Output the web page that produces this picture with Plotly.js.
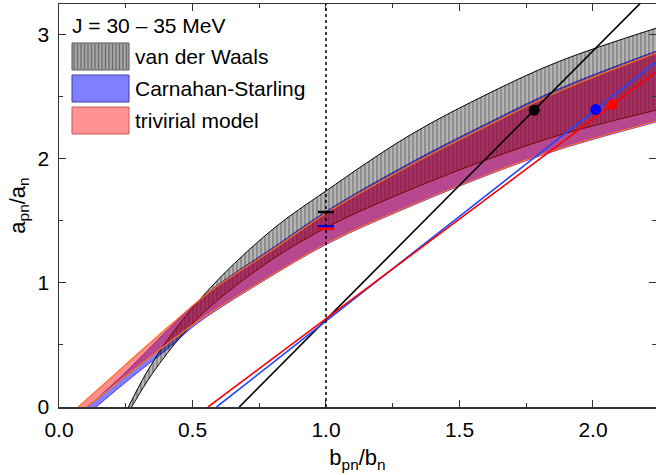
<!DOCTYPE html>
<html>
<head>
<meta charset="utf-8">
<script src="https://cdn.plot.ly/plotly-3.0.1.min.js"></script>
<style>html,body{margin:0;padding:0;background:#fff;}#chart{width:656px;height:475px;}</style>
</head>
<body>
<div id="chart"></div>
<script>
// ---------------- data ----------------
// van der Waals band
const vdwUpX = [0.26, 0.326, 0.42, 0.58, 0.80, 1.00, 1.315, 1.614, 1.876, 2.236];
const vdwUpY = [0.00, 0.27, 0.58, 0.99, 1.43, 1.74, 2.19, 2.53, 2.785, 3.05];
const vdwLoX = [0.272, 0.35, 0.466, 0.578, 0.80, 1.015, 1.315, 1.614, 1.876, 2.236];
const vdwLoY = [0.00, 0.27, 0.59, 0.83, 1.19, 1.46, 1.75, 2.00, 2.19, 2.39];
// Carnahan-Starling band
const csUpX = [0.108, 0.25, 0.428, 0.578, 0.803, 1.015, 1.315, 1.614, 1.876, 2.236];
const csUpY = [0.00, 0.28, 0.665, 0.955, 1.285, 1.595, 1.965, 2.295, 2.565, 2.865];
const csLoX = [0.139, 0.25, 0.416, 0.516, 0.75, 1.015, 1.315, 1.614, 1.876, 2.236];
const csLoY = [0.00, 0.20, 0.485, 0.67, 0.995, 1.325, 1.615, 1.875, 2.075, 2.295];
// trivirial model band
const triUpX = [0.072, 0.241, 0.428, 0.578, 0.803, 1.015, 1.315, 1.614, 1.876, 2.236];
const triUpY = [0.00, 0.325, 0.68, 0.95, 1.27, 1.58, 1.945, 2.275, 2.545, 2.85];
const triLoX = [0.104, 0.40, 0.516, 0.75, 1.015, 1.315, 1.614, 1.876, 2.236];
const triLoY = [0.00, 0.50, 0.685, 1.00, 1.33, 1.62, 1.88, 2.08, 2.30];
// straight lines
const lineBlackX = [0.675, 2.20], lineBlackY = [0.00, 3.30];
const lineBlueX  = [0.59, 2.30],  lineBlueY  = [0.00, 2.885];
const lineRedX   = [0.558, 2.30], lineRedY   = [0.00, 2.80];
// points on the lines
const dotBlack = {x: [1.78], y: [2.39]};
const dotBlue  = {x: [2.01], y: [2.395]};
const dotRed   = {x: [2.072], y: [2.435]};
// short marks at b_pn/b_n = 1
const markX = [0.97, 1.03];
const markBlackY = 1.57, markBlueY = 1.455, markRedY = 1.435;
const refX = 1.0;
// labels
const legendTitle = 'J = 30 \u2013 35 MeV';
const seriesNames = ['van der Waals', 'Carnahan-Starling', 'trivirial model'];
const xTitle = 'b<sub>pn</sub>/b<sub>n</sub>';
const yTitle = 'a<sub>pn</sub>/a<sub>n</sub>';

// ---------------- layout helpers ----------------
const W = 656, H = 475, M = {l: 59, r: 0, t: 4, b: 68};
const pw = W - M.l - M.r, ph = H - M.t - M.b;
const px2x = px => (px - M.l) / pw;
const px2y = py => (H - M.b - py) / ph;
const FONT = 'Liberation Sans, Arial, sans-serif';

const blueEdge = 'rgb(80,50,255)';
const redEdge = 'rgb(255,110,30)';

// drawing order: blue band, then van der Waals hatch, then red band on top
const traces = [
  {x: csLoX, y: csLoY, mode: 'lines', line: {color: blueEdge, width: 1, shape: 'spline'}, showlegend: false, hoverinfo: 'skip'},
  {x: csUpX, y: csUpY, mode: 'lines', line: {color: blueEdge, width: 1, shape: 'spline'}, fill: 'tonexty', fillcolor: 'rgba(0,0,255,0.5)', showlegend: false, hoverinfo: 'skip'},
  {x: vdwLoX, y: vdwLoY, mode: 'lines', line: {color: 'rgb(20,10,10)', width: 1, shape: 'spline'}, showlegend: false, hoverinfo: 'skip'},
  {x: vdwUpX, y: vdwUpY, mode: 'lines', line: {color: 'black', width: 1, shape: 'spline'}, fill: 'tonexty', fillcolor: 'rgba(0,0,0,0.3)',
   fillpattern: {shape: '|', bgcolor: 'rgba(0,0,0,0.29)', fgcolor: 'black', fgopacity: 0.27, size: 4, solidity: 0.4},
   showlegend: false, hoverinfo: 'skip'},
  {x: triLoX, y: triLoY, mode: 'lines', line: {color: redEdge, width: 1.2, shape: 'spline'}, showlegend: false, hoverinfo: 'skip'},
  {x: triUpX, y: triUpY, mode: 'lines', line: {color: redEdge, width: 1.2, shape: 'spline'}, fill: 'tonexty', fillcolor: 'rgba(255,0,0,0.44)', showlegend: false, hoverinfo: 'skip'},
  {x: lineBlackX, y: lineBlackY, mode: 'lines', line: {color: 'black', width: 1.6}, showlegend: false},
  {x: lineBlueX, y: lineBlueY, mode: 'lines', line: {color: 'rgb(30,70,255)', width: 1.6}, showlegend: false},
  {x: lineRedX, y: lineRedY, mode: 'lines', line: {color: 'rgb(255,0,0)', width: 1.6}, showlegend: false},
  {x: dotBlack.x, y: dotBlack.y, mode: 'markers', marker: {color: 'black', size: 11}, showlegend: false},
  {x: dotBlue.x, y: dotBlue.y, mode: 'markers', marker: {color: 'rgb(0,0,255)', size: 11}, showlegend: false},
  {x: dotRed.x, y: dotRed.y, mode: 'markers', marker: {color: 'rgb(255,0,0)', size: 11}, showlegend: false},
  {x: markX, y: [markBlackY, markBlackY], mode: 'lines', line: {color: 'black', width: 2.5}, showlegend: false},
  {x: markX, y: [markBlueY, markBlueY], mode: 'lines', line: {color: 'rgb(0,0,255)', width: 2.5}, showlegend: false},
  {x: markX, y: [markRedY, markRedY], mode: 'lines', line: {color: 'rgb(255,0,0)', width: 2.5}, showlegend: false}
];

// manual legend (drawn as paper-referenced shapes + annotations)
const shapes = [
  {type: 'line', xref: 'x', yref: 'paper', x0: refX, x1: refX, y0: 0, y1: 1, line: {color: 'black', width: 1.5, dash: 'dot'}, layer: 'above'}
];
const sw = {x0: 72, x1: 129, rows: [[43, 70], [75, 102], [107, 134]]};
const swFill = ['#a6a6a6', '#8080ff', '#ff9292'];
const swLine = ['#555555', 'rgb(60,60,170)', 'rgb(200,90,90)'];
sw.rows.forEach((r, i) => {
  shapes.push({type: 'rect', xref: 'paper', yref: 'paper', x0: px2x(sw.x0), x1: px2x(sw.x1), y0: px2y(r[1]), y1: px2y(r[0]),
               fillcolor: swFill[i], line: {color: swLine[i], width: 1}, layer: 'above'});
  if (i === 0) {
    for (let px = sw.x0 + 2; px < sw.x1 - 1; px += 3.5) {
      shapes.push({type: 'line', xref: 'paper', yref: 'paper', x0: px2x(px), x1: px2x(px), y0: px2y(r[1] - 1), y1: px2y(r[0] + 1),
                   line: {color: '#6a6a6a', width: 1.2}, layer: 'above'});
    }
  }
});
const annotations = [
  {xref: 'paper', yref: 'paper', x: px2x(70), y: px2y(25), xanchor: 'left', yanchor: 'middle', showarrow: false,
   text: legendTitle, font: {family: FONT, size: 21, color: 'black'}}
];
seriesNames.forEach((n, i) => {
  const r = sw.rows[i];
  annotations.push({xref: 'paper', yref: 'paper', x: px2x(133), y: px2y((r[0] + r[1]) / 2), xanchor: 'left', yanchor: 'middle',
                    showarrow: false, text: n, font: {family: FONT, size: 21, color: 'black'}});
});

const axisCommon = {
  showgrid: false, zeroline: false, showline: true, linecolor: '#333', linewidth: 1.5, mirror: 'ticks',
  ticks: 'inside', ticklen: 7, tickwidth: 1, tickcolor: '#333',
  tickfont: {family: FONT, size: 21, color: 'black'}
};
const layout = {
  width: W, height: H, margin: M, paper_bgcolor: 'white', plot_bgcolor: 'white', showlegend: false,
  xaxis: Object.assign({}, axisCommon, {range: [0, 2.236], dtick: 0.5, tick0: 0, tickformat: '.1f', ticklabelstandoff: 3,
    minor: {dtick: 0.25, ticks: 'inside', ticklen: 4, tickcolor: '#333', tickwidth: 1},
    title: {text: xTitle, font: {family: FONT, size: 22, color: 'black'}, standoff: 10}}),
  yaxis: Object.assign({}, axisCommon, {range: [0, 3.245], dtick: 1, tick0: 0, ticklabelstandoff: 4,
    minor: {dtick: 0.5, ticks: 'inside', ticklen: 4, tickcolor: '#333', tickwidth: 1},
    title: {text: yTitle, font: {family: FONT, size: 22, color: 'black'}, standoff: 6}}),
  shapes: shapes, annotations: annotations
};
Plotly.newPlot('chart', traces, layout, {displayModeBar: false, staticPlot: true});
</script>
</body>
</html>
